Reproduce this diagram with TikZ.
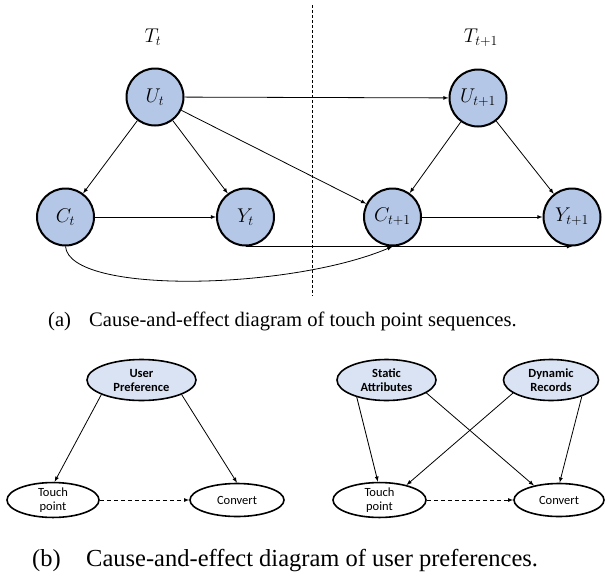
\documentclass[tikz,border=0pt]{standalone}
\usepackage{fontspec}
\setmainfont{Liberation Serif}
\newfontfamily\califont{Carlito}
\usepackage{graphicx}
\usepackage{tikz}
\usetikzlibrary{shapes.geometric}
\definecolor{varblue}{RGB}{180,199,231}
\definecolor{prefblue}{RGB}{218,227,243}
\newcommand{\varlbl}[1]{\scalebox{1.15}{$#1$}}

\begin{document}
\begin{tikzpicture}[x=1pt,y=-1pt,
  var/.style={circle,draw=black,line width=2pt,fill=varblue,minimum size=57pt,inner sep=0pt,font=\fontsize{17.28}{21}\selectfont},
  pref/.style={ellipse,draw=black,line width=1.6pt,fill=prefblue,inner sep=0pt,align=center,font=\califont\bfseries\fontsize{12.5}{14}\selectfont},
  obs/.style={ellipse,draw=black,line width=1.6pt,fill=white,inner sep=0pt,align=center,font=\califont\fontsize{12.5}{14}\selectfont},
  arr/.style={-latex,line width=0.8pt},
  dasharr/.style={-latex,line width=0.8pt,dash pattern=on 4pt off 3pt},
  captext/.style={anchor=base west,inner sep=0pt}]
\useasboundingbox (0,0) rectangle (605,581);

% (a) touch point sequences
\draw [line width=0.8pt,dash pattern=on 3pt off 2pt] (312,5)--(312,296);

\node[font=\fontsize{17.28}{21}\selectfont] (Tt) at (153,37) {\varlbl{T_t}};
\node[font=\fontsize{17.28}{21}\selectfont] (Tt1) at (481,38) {\varlbl{T_{t+1}}};

\node[var] (Ut) at (155,97) {\varlbl{U_t}};
\node[var] (Ct) at (65.5,217) {\varlbl{C_t}};
\node[var] (Yt) at (245.5,217) {\varlbl{Y_t}};
\node[var] (Ut1) at (478,98) {\varlbl{U_{t+1}}};
\node[var] (Ct1) at (392.5,217) {\varlbl{C_{t+1}}};
\node[var] (Yt1) at (572,217) {\varlbl{Y_{t+1}}};

\draw [arr] (Ut)--(Ct);
\draw [arr] (Ut)--(Yt);
\draw [arr] (Ct)--(Yt);
\draw [arr] (Ut)--(Ut1);
\draw [arr] (Ut)--(Ct1);
\draw [arr] (Ut1)--(Ct1);
\draw [arr] (Ut1)--(Yt1);
\draw [arr] (Ct1)--(Yt1);
\draw [arr] (Yt.south)--(Yt1.south);
\draw [arr] (Ct.south) .. controls (70,295) and (290,290) .. (Ct1.south);

\node[captext] (capa) at (48,326.5) {\fontsize{20.6}{24}\selectfont (a)};
\node[captext] (capatext) at (89,326.5) {\fontsize{20.6}{24}\selectfont Cause-and-effect diagram of touch point sequences.};

% (b) user preferences
\node[pref,minimum width=109pt,minimum height=41pt] (pref) at (141.5,380) {User\\Preference};
\node[obs,minimum width=92pt,minimum height=33pt] (touchL) at (53,500) {Touch\\point};
\node[obs,minimum width=94pt,minimum height=33pt] (convL) at (237,500) {Convert};

\draw [arr] (pref.200)--(touchL.85);
\draw [arr] (pref.-20)--(convL.north);
\draw [dasharr] (touchL.east)--(convL.west);

\node[pref,minimum width=99pt,minimum height=41pt] (static) at (386.5,380) {Static\\Attributes};
\node[pref,minimum width=95pt,minimum height=41pt] (dynamic) at (551,380) {Dynamic\\Records};
\node[obs,minimum width=93pt,minimum height=33pt] (touchR) at (379.5,500) {Touch\\point};
\node[obs,minimum width=90pt,minimum height=33pt] (convR) at (559,500) {Convert};

\draw [arr] (static.210)--(touchR.95);
\draw [arr] (static.-18)--(convR.150);
\draw [arr] (dynamic.199)--(touchR.29);
\draw [arr] (dynamic.-28)--(convR.88);
\draw [dasharr] (touchR.east)--(convR.west);

\node[captext] (capb) at (32,566) {\fontsize{24.5}{28}\selectfont (b)};
\node[captext] (capbtext) at (86,566) {\fontsize{24.5}{28}\selectfont Cause-and-effect diagram of user preferences.};

\end{tikzpicture}
\end{document}
